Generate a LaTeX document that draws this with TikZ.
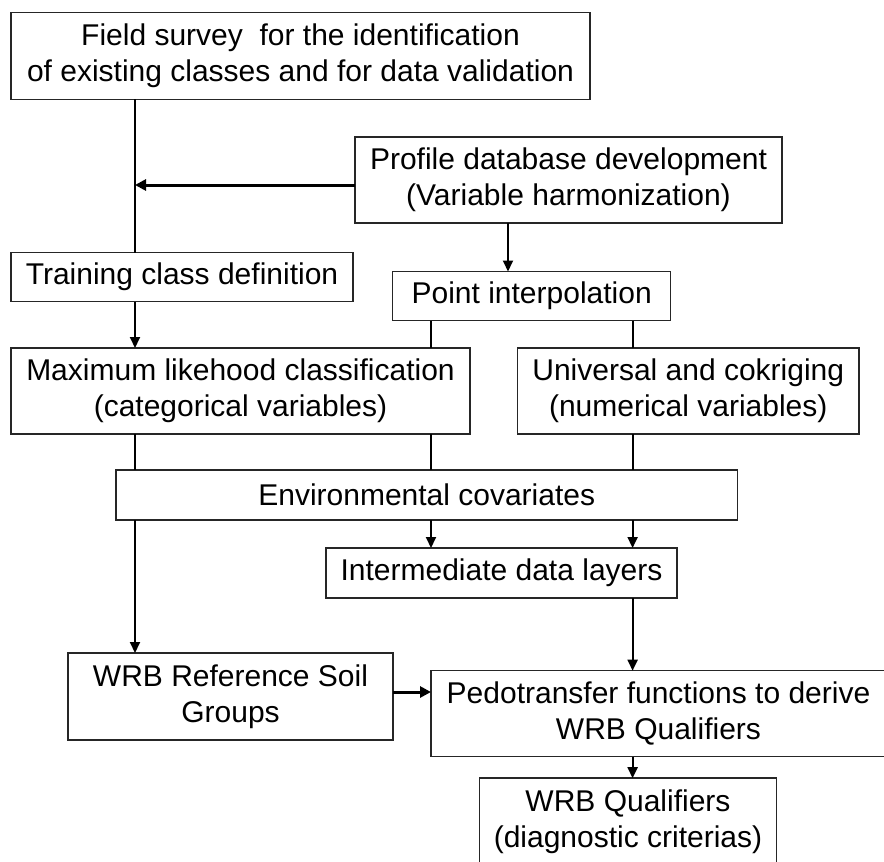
\documentclass[tikz,border=0pt]{standalone}
\usepackage{fontspec}
\setmainfont{Liberation Sans}
\usetikzlibrary{arrows.meta,calc}
\tikzset{
  box/.style={draw=black!85, line width=1.5pt, inner sep=0pt, outer sep=0pt, align=center,
    font=\fontsize{30}{36}\selectfont},
  conn/.style={line width=2pt},
  arr/.style={conn, -{Triangle[length=11pt,width=10pt]}},
  thickarr/.style={line width=3pt, -{Triangle[length=11pt,width=11pt]}},
}
\begin{document}
\begin{tikzpicture}[x=1pt,y=-1pt]
\useasboundingbox (0,0) rectangle (884,862);
\clip (0,0) rectangle (884,862);
\fill[white] (0,0) rectangle (884,862);

\node[box, minimum width=579pt, minimum height=86.6pt] (field) at (300.5,56)
  {Field survey\ \ for the identification\\of existing classes and for data validation};
\node[box, minimum width=427pt, minimum height=86pt] (profile) at (568.5,180)
  {Profile database development\\(Variable harmonization)};
\node[box, minimum width=342pt, minimum height=49pt] (train) at (182,277)
  {Training class definition};
\node[box, minimum width=278pt, minimum height=49pt] (point) at (531.7,296)
  {Point interpolation};
\node[box, minimum width=459pt, minimum height=86pt] (maxlik) at (240.5,391)
  {Maximum likehood classification\\(categorical variables)};
\node[box, minimum width=341.5pt, minimum height=86pt] (univ) at (688.25,391)
  {Universal and cokriging\\(numerical variables)};
\node[box, minimum width=621.5pt, minimum height=50pt] (env) at (426.75,495)
  {Environmental covariates};
\node[box, minimum width=351pt, minimum height=50pt] (inter) at (501.5,573)
  {Intermediate data layers};
\node[box, minimum width=325pt, minimum height=87pt] (rsg) at (230.5,696.5)
  {WRB Reference Soil\\Groups};
\node[box, minimum width=455pt, minimum height=86pt] (pedo) at (658.5,713.7)
  {Pedotransfer functions to derive\\WRB Qualifiers};
\node[box, minimum width=297.4pt, minimum height=87.6pt] (qual) at (628,822)
  {WRB Qualifiers\\(diagnostic criterias)};

\coordinate (xA) at (135,0);
\coordinate (xB) at (431,0);
\coordinate (xC) at (632.6,0);
\coordinate (xD) at (508,0);
\coordinate (yP) at (0,185);
\coordinate (yR) at (0,692);

\draw[conn] (field.south -| xA) -- (train.north -| xA);
\draw[thickarr] (profile.west |- yP) -- (xA |- yP);
\draw[arr] (profile.south -| xD) -- (point.north -| xD);
\draw[arr] (train.south -| xA) -- (maxlik.north -| xA);
\draw[conn] (point.south -| xB) -- (maxlik.north -| xB);
\draw[conn] (point.south -| xC) -- (univ.north -| xC);
\draw[conn] (maxlik.south -| xA) -- (env.north -| xA);
\draw[conn] (maxlik.south -| xB) -- (env.north -| xB);
\draw[conn] (univ.south -| xC) -- (env.north -| xC);
\draw[arr] (env.south -| xA) -- (rsg.north -| xA);
\draw[arr] (env.south -| xB) -- (inter.north -| xB);
\draw[arr] (env.south -| xC) -- (inter.north -| xC);
\draw[arr] (inter.south -| xC) -- (pedo.north -| xC);
\draw[thickarr] (rsg.east |- yR) -- (pedo.west |- yR);
\draw[arr] (pedo.south -| xC) -- (qual.north -| xC);
\end{tikzpicture}
\end{document}
